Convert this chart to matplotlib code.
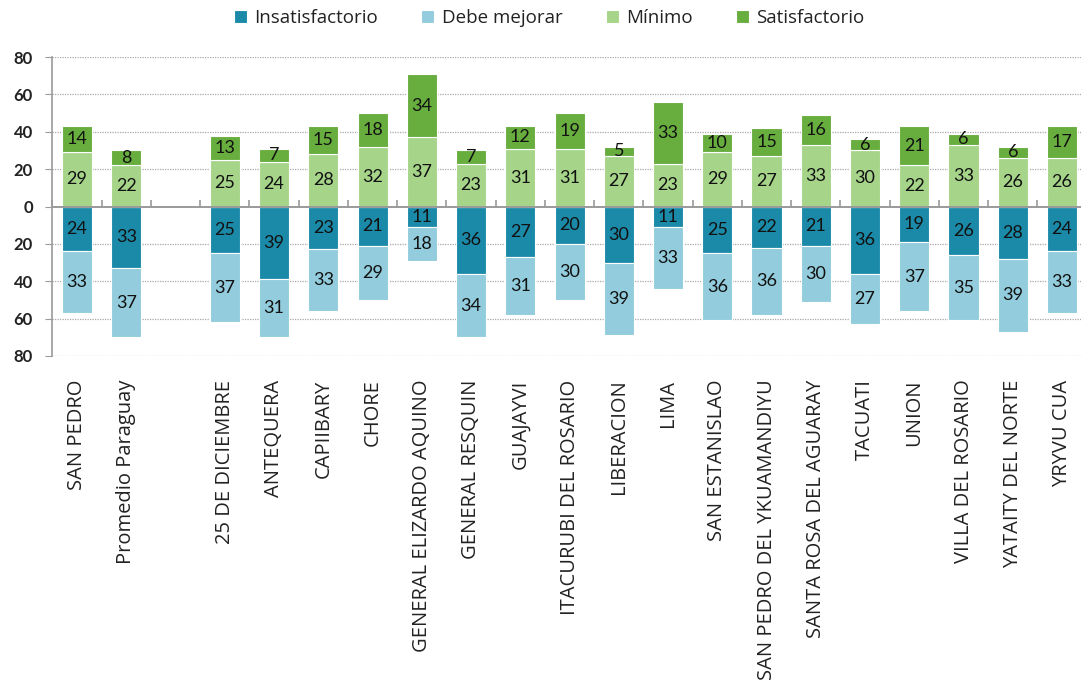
import numpy as np
import matplotlib
matplotlib.use("Agg")
import matplotlib.pyplot as plt
from matplotlib.ticker import FuncFormatter

# data
categories = ["SAN PEDRO", "Promedio Paraguay", "25 DE DICIEMBRE", "ANTEQUERA",
              "CAPIIBARY", "CHORE", "GENERAL ELIZARDO AQUINO", "GENERAL RESQUIN",
              "GUAJAYVI", "ITACURUBI DEL ROSARIO", "LIBERACION", "LIMA",
              "SAN ESTANISLAO", "SAN PEDRO DEL YKUAMANDIYU", "SANTA ROSA DEL AGUARAY",
              "TACUATI", "UNION", "VILLA DEL ROSARIO", "YATAITY DEL NORTE", "YRYVU CUA"]
insatisfactorio = [24, 33, 25, 39, 23, 21, 11, 36, 27, 20, 30, 11, 25, 22, 21, 36, 19, 26, 28, 24]
debe_mejorar = [33, 37, 37, 31, 33, 29, 18, 34, 31, 30, 39, 33, 36, 36, 30, 27, 37, 35, 39, 33]
minimo = [29, 22, 25, 24, 28, 32, 37, 23, 31, 31, 27, 23, 29, 27, 33, 30, 22, 33, 26, 26]
satisfactorio = [14, 8, 13, 7, 15, 18, 34, 7, 12, 19, 5, 33, 10, 15, 16, 6, 21, 6, 6, 17]
y_ticks = [-80, -60, -40, -20, 0, 20, 40, 60, 80]

COLORS = {"Insatisfactorio": "#1b8aa8", "Debe mejorar": "#93cddd",
          "Mínimo": "#a6d58a", "Satisfactorio": "#68ae3f"}
AXIS_GREY = "#9a9a9a"

# empty slot after the first two bars
x = np.array([0, 1] + list(range(3, len(categories) + 1)))
width = 0.61

fig = plt.figure(figsize=(10.81, 6.83), dpi=100)
ax = fig.add_axes([0.0485, 0.4788, 0.9567, 0.4377])

ins = -np.array(insatisfactorio)
deb = -np.array(debe_mejorar)
mn = np.array(minimo)
sat = np.array(satisfactorio)

kw = dict(width=width, edgecolor="white", linewidth=0.8, zorder=3)
b1 = ax.bar(x, ins, color=COLORS["Insatisfactorio"], label="Insatisfactorio", **kw)
b2 = ax.bar(x, deb, bottom=ins, color=COLORS["Debe mejorar"], label="Debe mejorar", **kw)
b3 = ax.bar(x, mn, color=COLORS["Mínimo"], label="Mínimo", **kw)
b4 = ax.bar(x, sat, bottom=mn, color=COLORS["Satisfactorio"], label="Satisfactorio", **kw)

for bars, vals in [(b1, insatisfactorio), (b2, debe_mejorar), (b3, minimo), (b4, satisfactorio)]:
    ax.bar_label(bars, labels=[str(v) for v in vals], label_type="center",
                 fontsize=13, family="Lato", color="#111111")

ax.set_xlim(-0.5, len(categories) + 0.5)
ax.set_ylim(-80, 80)
ax.set_yticks(y_ticks)
ax.yaxis.set_major_formatter(FuncFormatter(lambda v, p: f"{abs(int(v))}"))
for lab in ax.get_yticklabels():
    lab.set_family("Lato")
    lab.set_fontweight("bold")
    lab.set_fontsize(12)
    lab.set_color("#222222")
ax.tick_params(axis="y", length=5, color=AXIS_GREY, pad=9)

ax.set_xticks(x)
ax.set_xticklabels(categories, rotation=90, fontsize=14.5, family="Open Sans",
                   color="#222222", va="top")
ax.tick_params(axis="x", length=0, pad=17)

for y in y_ticks:
    if y != 0:
        ax.axhline(y, color="#a8a8a8", lw=0.9, ls=(0, (1, 1)), zorder=1)
ax.axhline(0, color=AXIS_GREY, lw=1.4, zorder=5)

for s in ["top", "right", "bottom"]:
    ax.spines[s].set_visible(False)
ax.spines["left"].set_color(AXIS_GREY)
ax.spines["left"].set_linewidth(1.2)

# category axis at zero with ticks between the slots
sec = ax.secondary_xaxis(0.5)
sec.set_xticks(np.arange(-0.5, len(categories) + 1, 1.0))
sec.set_xticklabels([])
sec.tick_params(length=5, color=AXIS_GREY, width=1.2)
for s in sec.spines.values():
    s.set_visible(False)

fig.legend(handles=[b1, b2, b3, b4], loc="center", bbox_to_anchor=(0.508, 0.973),
           ncol=4, frameon=False, prop={"family": "Open Sans", "size": 13.5},
           handlelength=0.7, handleheight=0.7, handletextpad=0.4, columnspacing=2.3,
           labelcolor="#222222")

fig.savefig("out.png", dpi=100)
